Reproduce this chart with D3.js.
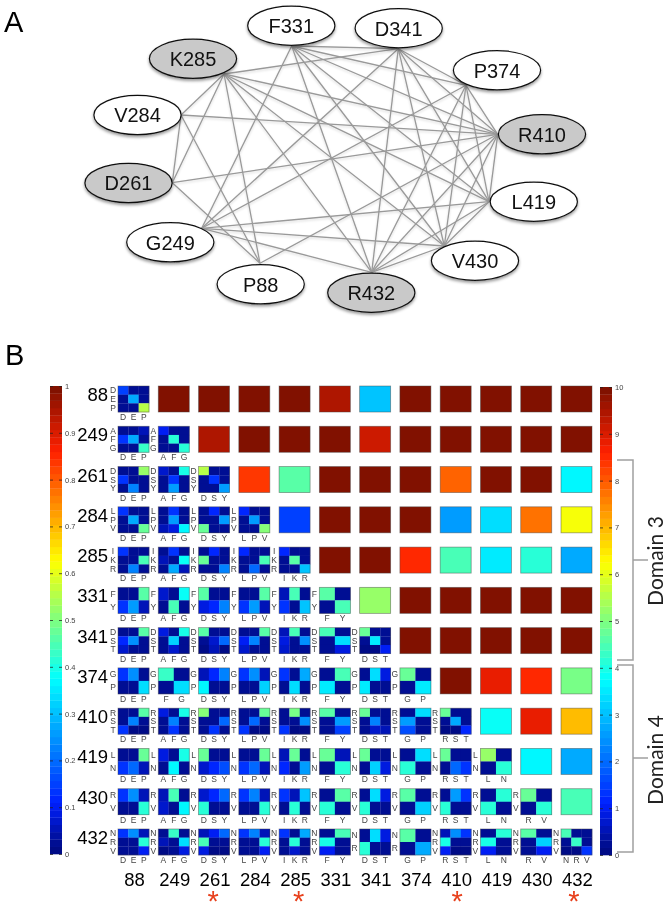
<!DOCTYPE html>
<html><head><meta charset="utf-8">
<script src="https://cdn.jsdelivr.net/npm/d3@7/dist/d3.min.js"></script>
<style>html,body{margin:0;padding:0;background:#fff}svg{display:block;filter:blur(.35px)}text{font-family:"Liberation Sans",Arial,sans-serif}</style>
</head><body><svg id="c" width="668" height="905"></svg>
<script>
// ---------- data ----------
const nodeNames = ["F331","D341","P374","R410","L419","V430","R432","P88","G249","D261","V284","K285"];
const grayNodes = ["R410","R432","D261","K285"];
const edges = [
 ["K285","V284"],["K285","D261"],["K285","P88"],["K285","R432"],["K285","V430"],["K285","L419"],["K285","R410"],["K285","D341"],
 ["V284","D261"],["V284","P88"],["V284","R410"],
 ["D261","R410"],["D261","P88"],
 ["G249","F331"],["G249","D341"],["G249","P374"],["G249","L419"],["G249","V430"],["G249","R432"],
 ["P88","R410"],
 ["V430","D341"],["V430","F331"],["V430","P374"],["V430","R410"],["V430","L419"],["V430","R432"],
 ["L419","R410"],["L419","P374"],["L419","D341"],["L419","F331"],["L419","R432"],
 ["R410","F331"],["R410","D341"],["R410","P374"],["R410","R432"],
 ["P374","F331"],["P374","D341"],["P374","R432"],
 ["D341","F331"],["D341","R432"],
 ["F331","R432"]
];
const sites = ["88","249","261","284","285","331","341","374","410","419","430","432"];
const residues = [["D","E","P"],["A","F","G"],["D","S","Y"],["L","P","V"],["I","K","R"],["F","Y"],["D","S","T"],["G","P"],["R","S","T"],["L","N"],["R","V"],["N","R","V"]];
const starred = ["261","285","410","432"];
const leftTicks = [0,.1,.2,.3,.4,.5,.6,.7,.8,.9,1];
const rightTicks = [0,1,2,3,4,5,6,7,8,9,10];
// upper triangle, values on the 0-10 scale, each row starts right of the diagonal
const score88  = [10,10,10,10,9.4,3.0,10,10,10,10,10];
const score249 = [9.4,10,10,10,9.2,10,10,10,10,10];
const score261 = [8.4,4.6,10,10,10,7.9,10,10,3.6];
const score284 = [1.5,10,10,10,2.6,3.4,7.8,6.1];
const score285 = [10,10,8.5,4.4,3.5,4.2,2.7];
const score331 = [5.2,10,10,10,10,10];
const score341 = [10,10,10,10,10];
const score374 = [10,8.9,8.5,4.9];
const score410 = [3.9,8.8,7.0];
const score419 = [3.6,2.7];
const score430 = [4.4];
const scores = [score88,score249,score261,score284,score285,score331,score341,score374,score410,score419,score430,[]];
// lower triangle, small matrices, values in percent
const mat88 = [[[15,3,2],[2,27,2],[2,2,55]]];
const mat249 = [
 [[2,2,5],[13,27,2],[2,2,43]],
 [[10,2,2],[2,42,2],[2,2,42]]];
const mat261 = [
 [[2,2,53],[13,2,2],[2,23,2]],
 [[7,2,40],[2,14,2],[2,25,2]],
 [[55,2,2],[2,14,2],[2,2,25]]];
const mat284 = [
 [[13,2,2],[2,27,2],[2,2,47]],
 [[2,13,2],[2,25,2],[5,8,36]],
 [[2,12,2],[2,2,25],[48,2,2]],
 [[12,2,2],[2,25,2],[2,2,50]]];
const mat285 = [
 [[13,2,2],[2,2,45],[2,22,2]],
 [[2,13,2],[6,2,38],[2,27,6]],
 [[2,12,2],[47,2,2],[2,2,23]],
 [[12,2,2],[2,2,45],[2,20,2]],
 [[11,2,2],[2,46,2],[2,2,30]]];
const mat331 = [
 [[2,2,46],[13,25,5]],
 [[7,2,38],[2,44,2]],
 [[46,2,2],[8,12,22]],
 [[2,2,46],[13,25,5]],
 [[5,45,2],[14,2,30]],
 [[46,2],[2,44]]];
const mat341 = [
 [[2,2,46],[11,24,2],[7,2,2]],
 [[8,2,40],[2,32,2],[2,7,2]],
 [[46,2,2],[2,7,20],[1,6,1]],
 [[2,2,46],[10,22,2],[7,2,2]],
 [[5,44,2],[8,2,24],[7,2,2]],
 [[44,2],[2,33],[2,9]],
 [[47,2,2],[2,35,2],[1,1,10]]];
const mat374 = [
 [[14,24,2],[2,2,33]],
 [[43,2],[2,34]],
 [[6,12,22],[36,2,2]],
 [[13,24,5],[2,2,32]],
 [[14,2,27],[2,34,2]],
 [[2,44],[35,2]],
 [[2,33,9],[35,2,2]],
 [[47,2],[2,35]]];
const mat410 = [
 [[2,2,46],[2,22,2],[13,1,1]],
 [[8,2,40],[2,22,2],[2,14,2]],
 [[50,2,2],[2,2,20],[2,14,2]],
 [[2,2,47],[2,20,2],[14,1,1]],
 [[2,49,2],[2,2,24],[13,1,1]],
 [[46,2],[2,25],[2,15]],
 [[47,2,2],[2,23,2],[2,7,5]],
 [[2,34],[26,2],[16,2]],
 [[48,2,2],[2,28,2],[1,1,12]]];
const mat419 = [
 [[2,2,48],[13,20,5]],
 [[8,2,40],[2,37,2]],
 [[48,2,2],[7,12,16]],
 [[2,2,47],[13,20,5]],
 [[5,47,2],[12,2,25]],
 [[47,5],[2,41]],
 [[47,2,2],[2,32,8]],
 [[2,34],[42,2]],
 [[47,2,2],[2,20,14]],
 [[52,2],[2,42]]];
const mat430 = [
 [[14,24,5],[2,2,42]],
 [[5,44,2],[7,2,36]],
 [[7,12,20],[42,2,2]],
 [[13,22,5],[2,2,42]],
 [[14,5,30],[2,42,2]],
 [[2,46],[42,2]],
 [[2,34,9],[42,2,2]],
 [[46,2],[2,32]],
 [[2,25,14],[42,2,2]],
 [[2,42],[42,2]],
 [[47,2],[2,42]]];
const mat432 = [
 [[14,24,5],[2,2,42],[2,2,10]],
 [[2,43,2],[6,2,33],[1,2,9]],
 [[5,10,20],[44,2,2],[8,1,1]],
 [[13,22,5],[2,2,42],[2,2,10]],
 [[13,2,27],[2,42,2],[2,7,2]],
 [[2,45],[40,2],[10,2]],
 [[2,33,9],[42,2,2]],
 [[46,2],[2,28]],
 [[5,24,14],[40,2,2],[10,1,1]],
 [[2,42],[40,2],[10,2]],
 [[46,2],[2,32],[2,10]],
 [[45,2,2],[2,43,2],[1,1,13]]];
const matrices = [mat88,mat249,mat261,mat284,mat285,mat331,mat341,mat374,mat410,mat419,mat430,mat432];
const colLabelOverride = {"374|249":["F","G"]};
const rowLabelOverride = {"432|341":["N","R"],"432|374":["N","R"]};

// ---------- network layout ----------
const nodeCenter = {F331:[291.3,25.7],D341:[398.7,28.2],P374:[497,70.3],R410:[542,134.3],L419:[533.8,201.7],V430:[475,260.7],R432:[371.3,292.7],P88:[260.7,284.3],G249:[170.3,242.3],D261:[128.5,183],V284:[137.5,115],K285:[193,58.8]};
const nodeAnchor = {F331:[291.7,46],D341:[398.3,48.7],P374:[466,85.3],R410:[497.7,134.3],L419:[489,201.7],V430:[444.3,246],R432:[371.7,272.3],P88:[260,263.3],G249:[201.7,228.3],D261:[172.3,182.7],V284:[181,115],K285:[224,74]};

const svg = d3.select("#c");
const defs = svg.append("defs");
const f = defs.append("filter").attr("id","sh").attr("x","-20%").attr("y","-20%").attr("width","140%").attr("height","150%");
f.append("feDropShadow").attr("dx",0).attr("dy",2).attr("stdDeviation",1.6).attr("flood-color","#000").attr("flood-opacity",.4);
const fl = defs.append("filter").attr("id","shl").attr("filterUnits","userSpaceOnUse").attr("x",0).attr("y",0).attr("width",668).attr("height",340);
fl.append("feDropShadow").attr("dx",0).attr("dy",1.5).attr("stdDeviation",1).attr("flood-color","#000").attr("flood-opacity",.15);

const panelLabel = (t,x,y)=>svg.append("text").attr("x",x).attr("y",y).attr("font-size",29).attr("fill","#000").text(t);
panelLabel("A",4,32); panelLabel("B",5,365);

// network
svg.append("g").attr("filter","url(#shl)").selectAll("line").data(edges).join("line")
 .attr("x1",d=>nodeAnchor[d[0]][0]).attr("y1",d=>nodeAnchor[d[0]][1])
 .attr("x2",d=>nodeAnchor[d[1]][0]).attr("y2",d=>nodeAnchor[d[1]][1])
 .attr("stroke","#999").attr("stroke-width",1.3);
const ng = svg.append("g").selectAll("g").data(nodeNames).join("g")
 .attr("transform",d=>`translate(${nodeCenter[d]})`);
ng.append("ellipse").attr("rx",43.6).attr("ry",19.6)
 .attr("fill",d=>grayNodes.includes(d)?"#c9c9c9":"#fff").attr("stroke","#111").attr("stroke-width",1.2).attr("filter","url(#sh)");
ng.append("text").attr("text-anchor","middle").attr("y",7.3).attr("font-size",20).attr("fill","#111").text(d=>d);

// colours: jet-like map with 64 levels
const jet = d3.scaleLinear().domain([0,.03,.11,.375,.625,.86,1])
 .range(["#000a80","#000f98","#0020ff","#00ffff","#ffff00","#ff2000","#7a1000"]).interpolate(d3.interpolateRgb);
const levels = d3.range(64).map(i=>jet((i+.5)/64));
const color = d3.scaleQuantize().domain([0,1]).range(levels);

// grid
const x = d3.scaleBand().domain(sites).range([118,592]).paddingInner(.23);
const y = d3.scaleBand().domain(sites).range([386,855]).paddingInner(.354);

// upper triangle
const cellBorder = "rgba(70,70,70,.55)";
const upper = scores.flatMap((r,i)=>r.map((v,k)=>({row:sites[i],col:sites[i+1+k],v})));
svg.append("g").selectAll("rect").data(upper).join("rect")
 .attr("x",d=>x(d.col)).attr("y",d=>y(d.row)).attr("width",x.bandwidth()).attr("height",y.bandwidth())
 .attr("fill",d=>color(d.v/10)).attr("stroke",cellBorder).attr("stroke-width",.8);

// lower triangle small multiples
matrices.forEach((rowMats,i)=>{
 const rs = sites[i];
 rowMats.forEach((m,j)=>{
  const cs = sites[j];
  const key = rs+"|"+cs;
  const rl = rowLabelOverride[key]||residues[i];
  const cl = colLabelOverride[key]||residues[j];
  const g = svg.append("g");
  const sx = d3.scaleBand().domain(d3.range(cl.length)).range([x(cs),x(cs)+x.bandwidth()]);
  const sy = d3.scaleBand().domain(d3.range(rl.length)).range([y(rs),y(rs)+y.bandwidth()]);
  const flat = m.flatMap((r,a)=>r.map((v,b)=>({a,b,v})));
  g.selectAll("rect").data(flat).join("rect")
   .attr("x",d=>sx(d.b)).attr("y",d=>sy(d.a)).attr("width",sx.bandwidth()+.2).attr("height",sy.bandwidth()+.2)
   .attr("fill",d=>color(d.v/100));
  g.append("rect").attr("x",x(cs)).attr("y",y(rs)).attr("width",x.bandwidth()).attr("height",y.bandwidth())
   .attr("fill","none").attr("stroke",cellBorder).attr("stroke-width",.8);
  g.selectAll("text.r").data(rl).join("text").attr("class","r")
   .attr("x",x(cs)-5).attr("y",(d,a)=>sy(a)+sy.bandwidth()/2+3).attr("text-anchor","middle")
   .attr("font-size",8.5).attr("fill","#444").text(d=>d);
  g.selectAll("text.c").data(cl).join("text").attr("class","c")
   .attr("x",(d,b)=>sx(b)+sx.bandwidth()/2).attr("y",y(rs)+y.bandwidth()+8).attr("text-anchor","middle")
   .attr("font-size",8.5).attr("fill","#444").text(d=>d);
 });
});

// big labels
svg.append("g").selectAll("text").data(sites).join("text")
 .attr("x",108).attr("y",d=>y(d)+15).attr("text-anchor","end").attr("font-size",18.5).attr("fill","#000").text(d=>d);
svg.append("g").selectAll("text").data(sites).join("text")
 .attr("x",d=>x(d)+x.bandwidth()/2+1).attr("y",886).attr("text-anchor","middle").attr("font-size",18.5).attr("fill","#000").text(d=>d);
const starShift = {"261":-1,"285":4,"410":1.5,"432":-2.5};
svg.append("g").selectAll("text").data(starred).join("text")
 .attr("x",d=>x(d)+x.bandwidth()/2+starShift[d]).attr("y",911).attr("text-anchor","middle")
 .attr("font-size",29).attr("fill","#e8401c").text("*");

// colour bars
function colorbar(x0,y0,y1,maxV,ticks,fmt){
 const s = d3.scaleLinear().domain([0,maxV]).range([y1,y0]);
 const g = svg.append("g");
 g.selectAll("rect").data(levels).join("rect")
  .attr("x",x0).attr("width",12)
  .attr("y",(d,i)=>s((i+1)/64*maxV)).attr("height",(y1-y0)/64+.3).attr("fill",d=>d);
 const ax = d3.axisRight(s).tickValues(ticks).tickFormat(fmt).tickSize(-12).tickPadding(3);
 const a = g.append("g").attr("transform",`translate(${x0+12},0)`).call(ax);
 a.select(".domain").remove();
 a.selectAll("line").attr("stroke","#222").attr("stroke-opacity",.75).attr("stroke-dasharray","3,6");
 a.selectAll("text").attr("font-size",7.5).attr("fill","#444").attr("font-family","Liberation Sans");
}
colorbar(50,386,854,1,leftTicks,d3.format("~g"));
colorbar(600,387,855,10,rightTicks,d3.format("d"));

// domain brackets
const domains = [{name:"Domain 3",y0:460,y1:660,m:560,ty:561},{name:"Domain 4",y0:665,y1:852,m:758,ty:760}];
const bg = svg.append("g").selectAll("g").data(domains).join("g");
bg.append("path").attr("fill","none").attr("stroke","#a0a0a0").attr("stroke-width",1.5)
 .attr("d",d=>{const p=d3.path();p.moveTo(617,d.y0);p.lineTo(633,d.y0);p.lineTo(633,d.y1);p.lineTo(617,d.y1);p.moveTo(633,d.m);p.lineTo(648,d.m);return p.toString();});
bg.append("text").attr("transform",d=>`translate(663,${d.ty}) rotate(-90)`).attr("text-anchor","middle")
 .attr("font-size",21).attr("fill","#222").style("font-family","Lato").text(d=>d.name);
</script></body></html>
